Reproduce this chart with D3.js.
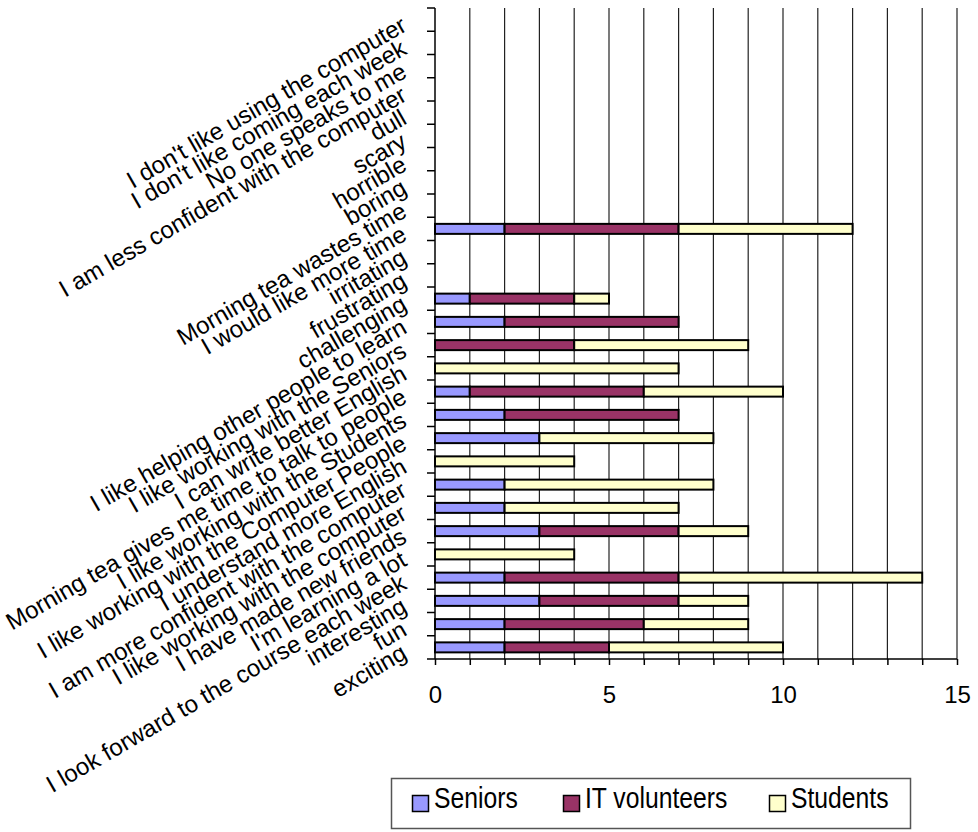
<!DOCTYPE html>
<html>
<head>
<meta charset="utf-8">
<script src="https://cdn.jsdelivr.net/npm/d3@7"></script>
<style>
  html, body { margin: 0; padding: 0; background: #fff; }
  svg { display: block; font-family: "Liberation Sans", Arial, sans-serif; }
</style>
</head>
<body>
<svg id="chart" width="978" height="832"></svg>
<script>
// Categories listed top to bottom as displayed
const categories = [
  "I don't like using the computer",
  "I don't like coming each week",
  "No one speaks to me",
  "I am less confident with the computer",
  "dull",
  "scary",
  "horrible",
  "boring",
  "Morning tea wastes time",
  "I would like more time",
  "irritating",
  "frustrating",
  "challenging",
  "I like helping other people to learn",
  "I like working with the Seniors",
  "I can write better English",
  "Morning tea gives me time to talk to people",
  "I like working with the Students",
  "I like working with the Computer People",
  "I understand more English",
  "I am more confident with the computer",
  "I like working with the computer",
  "I have made new friends",
  "I'm learning a lot",
  "I look forward to the course each week",
  "interesting",
  "fun",
  "exciting"
];
const seniors      = [0,0,0,0,0,0,0,0,0,2,0,0,1,2,0,0,1,2,3,0,2,2,3,0,2,3,2,2];
const itVolunteers = [0,0,0,0,0,0,0,0,0,5,0,0,3,5,4,0,5,5,0,0,0,0,4,0,5,4,4,3];
const students     = [0,0,0,0,0,0,0,0,0,5,0,0,1,0,5,7,4,0,5,4,6,5,2,4,7,2,3,5];

const seriesNames = ["Seniors", "IT volunteers", "Students"];
const seriesColors = ["#9999FF", "#993366", "#FFFFCC"];
const xTickLabels = [0, 5, 10, 15];

const rows = categories.map((c, i) => ({
  cat: c,
  "Seniors": seniors[i],
  "IT volunteers": itVolunteers[i],
  "Students": students[i]
}));

const svg = d3.select("#chart");
const x = d3.scaleLinear().domain([0, 15]).range([435, 957]);
const y = d3.scaleBand().domain(categories).range([8, 659]).padding(0);
const color = d3.scaleOrdinal().domain(seriesNames).range(seriesColors);

// gridlines
svg.append("g")
  .selectAll("line")
  .data(d3.range(1, 16))
  .join("line")
  .attr("x1", d => x(d)).attr("x2", d => x(d))
  .attr("y1", y.range()[0]).attr("y2", y.range()[1])
  .attr("stroke", "#222").attr("stroke-width", 1.2);

// bars
const stacked = d3.stack().keys(seriesNames)(rows);
const barH = 10;
svg.append("g")
  .selectAll("g")
  .data(stacked)
  .join("g")
  .attr("fill", d => color(d.key))
  .selectAll("rect")
  .data(d => d.filter(p => p[1] - p[0] > 0))
  .join("rect")
  .attr("x", d => x(d[0]))
  .attr("width", d => x(d[1]) - x(d[0]))
  .attr("y", d => y(d.data.cat) + y.bandwidth() / 2 - barH / 2)
  .attr("height", barH)
  .attr("stroke", "#000")
  .attr("stroke-width", 2);

// y axis line + ticks
const yAxisG = svg.append("g");
yAxisG.append("line")
  .attr("x1", x(0)).attr("x2", x(0))
  .attr("y1", y.range()[0]).attr("y2", y.range()[1])
  .attr("stroke", "#000").attr("stroke-width", 1.5);
const bounds = categories.map(c => y(c)).concat([y.range()[1]]);
yAxisG.selectAll("line.tk")
  .data(bounds)
  .join("line")
  .attr("class", "tk")
  .attr("x1", x(0) - 8).attr("x2", x(0))
  .attr("y1", d => d).attr("y2", d => d)
  .attr("stroke", "#000").attr("stroke-width", 1.5);

// y labels rotated
yAxisG.selectAll("text")
  .data(categories)
  .join("text")
  .attr("transform", d => `translate(404,${y(d) + y.bandwidth() / 2 + 3}) rotate(-30)`)
  .attr("text-anchor", "end")
  .attr("dy", "0.35em")
  .attr("font-size", 24)
  .attr("fill", "#000")
  .text(d => d);

// x axis
const xAxis = d3.axisBottom(x)
  .tickValues(d3.range(0, 16))
  .tickSize(6)
  .tickFormat(d => xTickLabels.includes(d) ? d : "");
const xg = svg.append("g")
  .attr("transform", `translate(0,${y.range()[1]})`)
  .call(xAxis);
xg.select(".domain").attr("stroke", "#000").attr("stroke-width", 1.5)
  .attr("d", `M${x(0)},0H${x(15)}`);
xg.selectAll(".tick line").attr("stroke", "#000").attr("stroke-width", 1.5);
xg.selectAll(".tick text")
  .attr("font-size", 24)
  .attr("font-family", "Liberation Sans, Arial, sans-serif")
  .attr("fill", "#000")
  .attr("y", 27)
  .attr("dy", "0.71em");

// legend
const lg = svg.append("g");
lg.append("rect")
  .attr("x", 391.5).attr("y", 778.5)
  .attr("width", 519).attr("height", 50)
  .attr("fill", "#fff").attr("stroke", "#555").attr("stroke-width", 1.5);
const legendX = [412, 563, 769];
const items = lg.selectAll("g.item")
  .data(seriesNames)
  .join("g")
  .attr("class", "item")
  .attr("transform", (d, i) => `translate(${legendX[i]},0)`);
items.append("rect")
  .attr("x", 0.5).attr("y", 795.5)
  .attr("width", 16).attr("height", 16)
  .attr("fill", d => color(d))
  .attr("stroke", "#000").attr("stroke-width", 1.5);
items.append("text")
  .attr("transform", "translate(22,808) scale(0.95,1.1)")
  .attr("font-size", 26)
  .attr("fill", "#000")
  .text(d => d);
</script>
</body>
</html>
